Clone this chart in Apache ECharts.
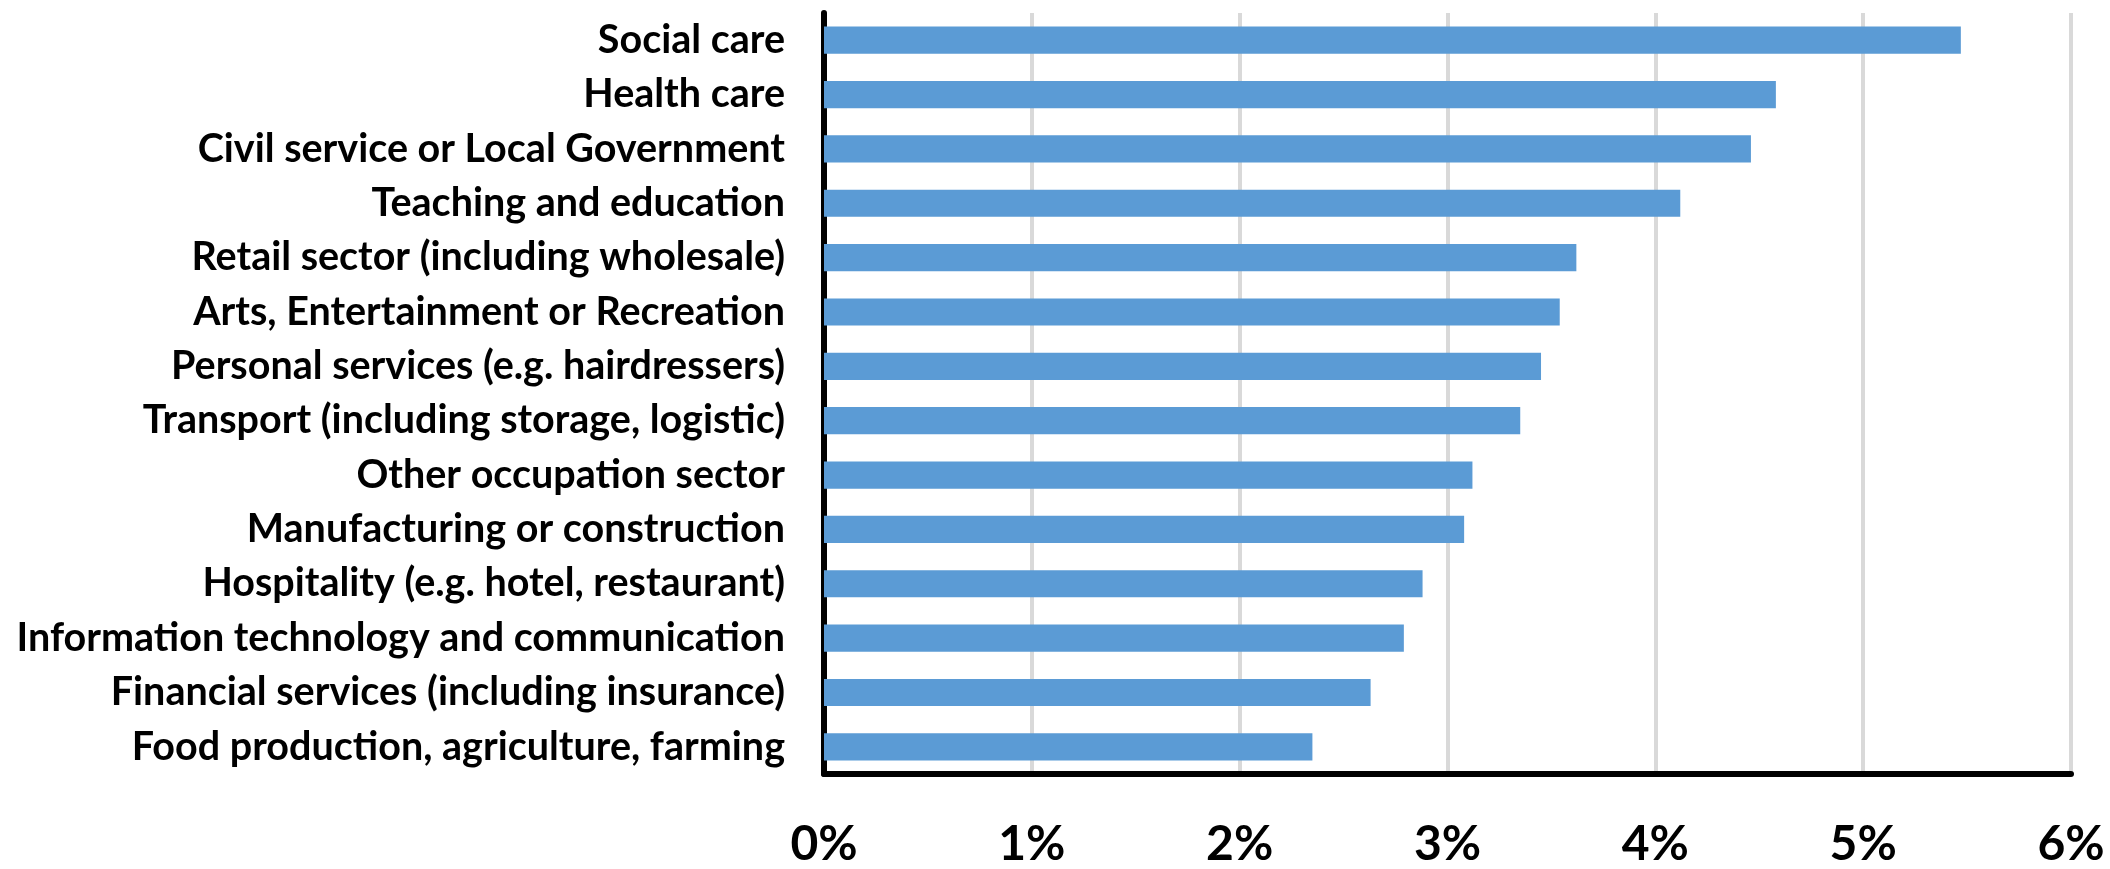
<!DOCTYPE html>
<html>
<head>
<meta charset="utf-8">
<script src="https://cdn.jsdelivr.net/npm/echarts@6/dist/echarts.min.js"></script>
<style>
html,body{margin:0;padding:0;background:#fff;}
#c{width:2110px;height:869px;}
</style>
</head>
<body>
<div id="c"></div>
<script>
const categories = [
  "Social care",
  "Health care",
  "Civil service or Local Government",
  "Teaching and education",
  "Retail sector (including wholesale)",
  "Arts, Entertainment or Recreation",
  "Personal services (e.g. hairdressers)",
  "Transport (including storage, logistic)",
  "Other occupation sector",
  "Manufacturing or construction",
  "Hospitality (e.g. hotel, restaurant)",
  "Information technology and communication",
  "Financial services (including insurance)",
  "Food production, agriculture, farming"
];
const values = [5.47, 4.58, 4.46, 4.12, 3.62, 3.54, 3.45, 3.35, 3.12, 3.08, 2.88, 2.79, 2.63, 2.35];
const xTicks = [0, 1, 2, 3, 4, 5, 6];

const chart = echarts.init(document.getElementById('c'), null, {renderer: 'canvas'});
const FONT = 'Lato, "Open Sans", sans-serif';
chart.setOption({
  animation: false,
  backgroundColor: '#ffffff',
  grid: {left: 824, right: 39, top: 13, bottom: 92, containLabel: false},
  xAxis: {
    type: 'value',
    min: xTicks[0],
    max: xTicks[xTicks.length - 1],
    interval: 1,
    axisLine: {show: true, lineStyle: {color: '#000', width: 6}},
    axisTick: {show: false},
    splitLine: {show: true, lineStyle: {color: '#d9d9d9', width: 4}},
    axisLabel: {
      formatter: '{value}%',
      fontFamily: FONT, fontWeight: 'bold', fontSize: 48, color: '#000',
      margin: 47
    }
  },
  yAxis: {
    type: 'category',
    data: categories,
    inverse: true,
    axisLine: {show: true, onZero: false, lineStyle: {color: '#000', width: 6}},
    axisTick: {show: false},
    splitLine: {show: false},
    axisLabel: {
      fontFamily: FONT, fontWeight: 'bold', fontSize: 39.5, color: '#000',
      margin: 39
    }
  },
  series: [{
    type: 'bar',
    data: values,
    barCategoryGap: '50%',
    itemStyle: {color: '#5b9bd5'}
  }]
});
</script>
</body>
</html>
